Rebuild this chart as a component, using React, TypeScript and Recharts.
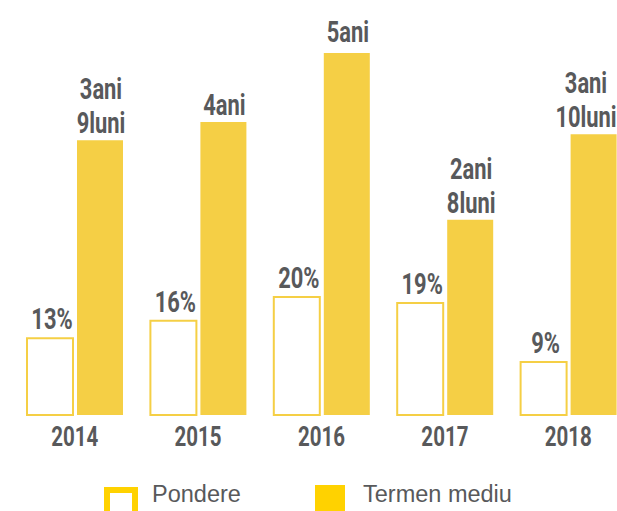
import { BarChart, Bar, XAxis, YAxis, LabelList, Legend } from "recharts";

// ani -> ponderea și termenul mediu (în luni)
const YEARS = ["2014", "2015", "2016", "2017", "2018"];
const PONDERE = [13, 16, 20, 19, 9];
const TERMEN_LUNI = [45, 48, 60, 32, 46];
const SERIES_NAMES = ["Pondere", "Termen mediu"];

const YELLOW = "#F5CF45";
const LEGEND_YELLOW = "#FFD200";
const TEXT = "#58595b";
const LABEL_SCALE = 0.73;
const VISIBLE_W = 617;

const data = YEARS.map((year, i) => ({
  year,
  pondere: PONDERE[i],
  termen: TERMEN_LUNI[i],
}));

/** 45 -> ["3ani", "9luni"], 48 -> ["4ani"] */
function termenLines(m: number): string[] {
  const ani = Math.floor(m / 12);
  const luni = m % 12;
  return luni ? [`${ani}ani`, `${luni}luni`] : [`${ani}ani`];
}

// lățime aproximativă (em) pentru Roboto Bold
function approxEm(s: string): number {
  let w = 0;
  for (const c of s) {
    if ("li".includes(c)) w += 0.25;
    else if (c === "%") w += 0.73;
    else w += 0.56;
  }
  return w;
}

function Condensed({
  x, y, size = 30, scale = LABEL_SCALE, children,
}: { x: number; y: number; size?: number; scale?: number; children: string }) {
  return (
    <text
      transform={`translate(${x},${y}) scale(${scale},1)`}
      textAnchor="middle"
      fill={TEXT}
      fontFamily="Roboto, sans-serif"
      fontWeight={700}
      fontSize={size}
    >
      {children}
    </text>
  );
}

function PondereLabel(props: any) {
  const { x, y, width, value } = props;
  return <Condensed x={x + width / 2 + 2} y={y - 9}>{`${value}%`}</Condensed>;
}

function TermenLabel(props: any) {
  const { x, y, width, value } = props;
  const lines = termenLines(value);
  const half = (Math.max(...lines.map(approxEm)) * 30 * LABEL_SCALE) / 2;
  const cx = Math.min(x + width / 2 + 1, VISIBLE_W - 1 - half);
  return (
    <g>
      {lines.map((line, i) => (
        <Condensed key={i} x={cx} y={y - 7 - (lines.length - 1 - i) * 34}>
          {line}
        </Condensed>
      ))}
    </g>
  );
}

function YearTick(props: any) {
  const { x, y, payload } = props;
  return (
    <g>
      <Condensed x={x} y={y + 31} size={27} scale={0.76}>
        {payload.value}
      </Condensed>
    </g>
  );
}

function LegendBox() {
  const text = {
    position: "absolute" as const,
    top: 0,
    fontFamily: "'Liberation Sans', Arial, sans-serif",
    fontSize: 23.5,
    color: TEXT,
    lineHeight: "28px",
  };
  return (
    <div style={{ position: "relative", height: 40 }}>
      <div
        style={{
          position: "absolute",
          left: 104,
          top: 7,
          width: 22,
          height: 22,
          border: `6px solid ${LEGEND_YELLOW}`,
          background: "#fff",
        }}
      />
      <div style={{ ...text, left: 152 }}>{SERIES_NAMES[0]}</div>
      <div
        style={{
          position: "absolute",
          left: 315,
          top: 5,
          width: 30,
          height: 30,
          background: LEGEND_YELLOW,
        }}
      />
      <div style={{ ...text, left: 363 }}>{SERIES_NAMES[1]}</div>
    </div>
  );
}

export default function App() {
  return (
    <div
      style={{
        position: "absolute",
        left: 0,
        top: 0,
        width: VISIBLE_W,
        height: 511,
        overflow: "hidden",
        background: "#fff",
      }}
    >
      <BarChart
        width={640}
        height={511}
        data={data}
        margin={{ top: 53, right: 10, bottom: 56, left: 13 }}
        barCategoryGap={14}
        barGap={4}
      >
        <XAxis
          dataKey="year"
          axisLine={false}
          tickLine={false}
          tickSize={0}
          tickMargin={0}
          height={40}
          tick={<YearTick />}
          interval={0}
        />
        <YAxis yAxisId="pct" hide domain={[0, 61.4]} />
        <YAxis yAxisId="luni" hide domain={[0, 59.3]} allowDataOverflow />
        <Legend
          layout="horizontal"
          verticalAlign="middle"
          align="center"
          wrapperStyle={{ left: 0, top: 480, width: VISIBLE_W }}
          content={<LegendBox />}
        />
        <Bar
          yAxisId="pct"
          dataKey="pondere"
          name={SERIES_NAMES[0]}
          fill="#fff"
          stroke={YELLOW}
          strokeWidth={2}
          isAnimationActive={false}
        >
          <LabelList dataKey="pondere" content={<PondereLabel />} />
        </Bar>
        <Bar
          yAxisId="luni"
          dataKey="termen"
          name={SERIES_NAMES[1]}
          fill={YELLOW}
          isAnimationActive={false}
        >
          <LabelList dataKey="termen" content={<TermenLabel />} />
        </Bar>
      </BarChart>
    </div>
  );
}
